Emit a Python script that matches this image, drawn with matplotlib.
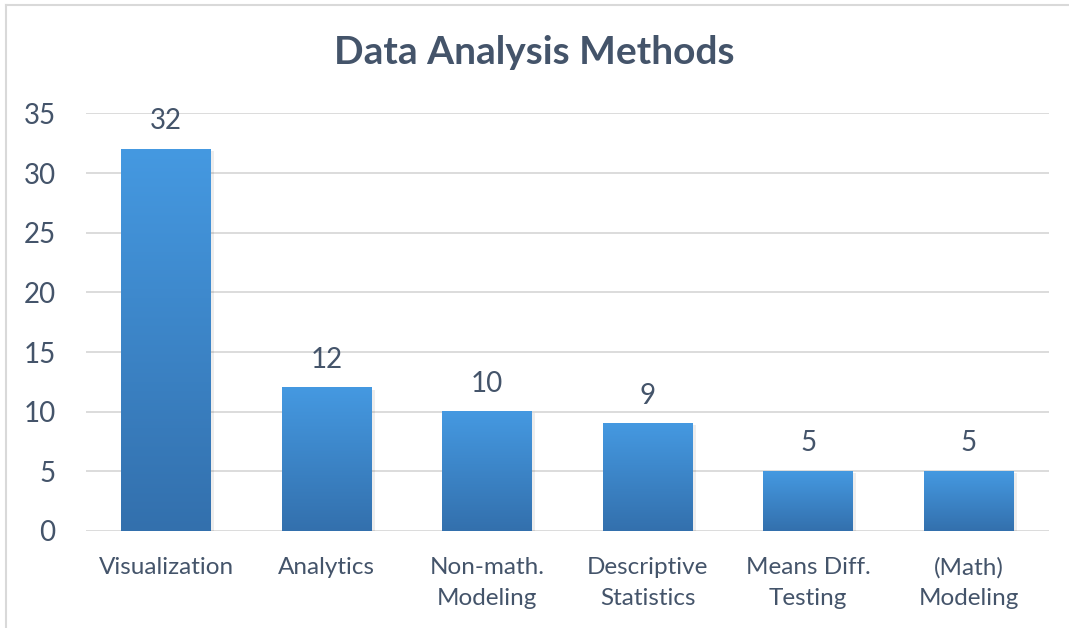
import matplotlib
matplotlib.use("Agg")
import matplotlib.pyplot as plt
import numpy as np
from matplotlib.colors import LinearSegmentedColormap
from matplotlib.patches import Rectangle
from matplotlib.lines import Line2D

categories = ["Visualization", "Analytics", "Non-math.\nModeling",
              "Descriptive\nStatistics", "Means Diff.\nTesting", "(Math)\nModeling"]
counts = [32, 12, 10, 9, 5, 5]
yticks = [0, 5, 10, 15, 20, 25, 30, 35]

text_col = "#44546A"
grad = LinearSegmentedColormap.from_list("bar", ["#3370AD", "#4599E1"])

plt.rcParams["font.family"] = ["Lato", "DejaVu Sans"]

fig = plt.figure(figsize=(10.69, 6.28), dpi=100)
ax = fig.add_axes([0.0805, 0.1545, 0.9008, 0.6649])

# light chart-area frame (only top and left edges are visible in the crop)
fig.lines.append(Line2D([0.0055, 0.0055], [0.0, 0.992], transform=fig.transFigure,
                        color="#D9D9D9", linewidth=1.5))
fig.lines.append(Line2D([0.0055, 1.0], [0.992, 0.992], transform=fig.transFigure,
                        color="#D9D9D9", linewidth=1.5))

x = np.arange(len(categories))
width = 0.56
gradient = np.linspace(0, 1, 256).reshape(-1, 1)
for xi, v in zip(x, counts):
    # soft shadow
    ax.add_patch(Rectangle((xi - width / 2 + 0.02, -0.15), width, v, facecolor="#000000",
                           alpha=0.07, edgecolor="none", zorder=2))
    ax.imshow(gradient, extent=(xi - width / 2, xi + width / 2, 0, v), origin="lower",
              cmap=grad, aspect="auto", zorder=3)
    ax.text(xi, v + 1.68, str(v), ha="center", va="baseline", fontsize=20, color=text_col)

ax.set_xlim(-0.5, len(categories) - 0.5)
ax.set_ylim(0, 35)
ax.set_yticks(yticks)
ax.set_xticks(x)
ax.set_xticklabels(categories, fontsize=17.5, color=text_col, linespacing=1.55)
ax.tick_params(axis="y", labelsize=20, labelcolor=text_col, length=0, pad=22)
ax.tick_params(axis="x", length=0, pad=19)
ax.grid(axis="y", color="#D9D9D9", linewidth=1.3)
ax.set_axisbelow(True)
for s in ax.spines.values():
    s.set_visible(False)

fig.text(0.5, 0.898, "Data Analysis Methods", ha="center", va="baseline",
         fontsize=28, fontweight="bold", color=text_col)

fig.savefig("out.png", dpi=100)
